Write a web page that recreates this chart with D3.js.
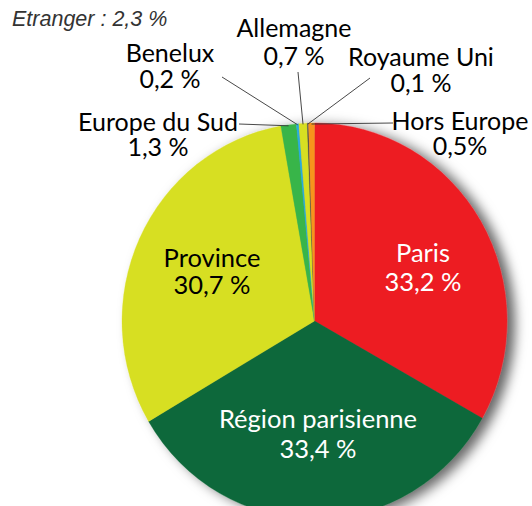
<!DOCTYPE html>
<html>
<head>
<meta charset="utf-8">
<script src="https://cdn.jsdelivr.net/npm/d3@7"></script>
<style>
  html, body { margin: 0; padding: 0; background: #fff; }
  svg { display: block; }
</style>
</head>
<body>
<svg id="chart" width="532" height="506"></svg>
<script>
// ---- Data ----
const categories = ["Paris", "Région parisienne", "Province", "Europe du Sud", "Benelux", "Allemagne", "Royaume Uni", "Hors Europe"];
const values = [33.2, 33.4, 30.7, 1.3, 0.2, 0.7, 0.1, 0.5];
const valueLabels = ["33,2 %", "33,4 %", "30,7 %", "1,3 %", "0,2 %", "0,7 %", "0,1 %", "0,5%"];
const colors = ["#ED1C24", "#0F673A", "#D7DF23", "#39B54A", "#29ABE2", "#D7DF23", "#4D4D4D", "#F7941D"];
const titleText = "Etranger : 2,3 %";

// ---- Layout (positions kept separate from data) ----
const cx = 314.5, cy = 321, rx = 192.5, ry = 198;
// label centre x, first baseline y, line gap, text colour, font size, leader outer end (or null)
const labelLayout = [
  { x: 423, y: 262, gap: 29, fill: "#fff", size: 25.5, leader: null },
  { x: 318, y: 428, gap: 30, fill: "#fff", size: 25.5, leader: null },
  { x: 212, y: 267, gap: 27, fill: "#000", size: 25.5, leader: null },
  { x: 158, y: 131, gap: 25, fill: "#000", size: 25, leader: [239, 124] },
  { x: 170, y: 62,  gap: 26, fill: "#000", size: 25, leader: [222, 77] },
  { x: 294, y: 37,  gap: 28, fill: "#000", size: 25, leader: [298, 72] },
  { x: 421, y: 66,  gap: 26, fill: "#000", size: 25, leader: [370, 78] },
  { x: 460, y: 130, gap: 25, fill: "#000", size: 25, leader: [393, 123] }
];

const data = categories.map((c, i) => ({ name: c, value: values[i], label: valueLabels[i], color: colors[i], layout: labelLayout[i] }));

const svg = d3.select("#chart");

// Drop shadow filter
const defs = svg.append("defs");
const f = defs.append("filter").attr("id", "shadow").attr("x", "-20%").attr("y", "-20%").attr("width", "140%").attr("height", "140%");
f.append("feGaussianBlur").attr("in", "SourceAlpha").attr("stdDeviation", 6).attr("result", "blur");
f.append("feOffset").attr("in", "blur").attr("dx", 8).attr("dy", 3).attr("result", "off");
f.append("feFlood").attr("flood-color", "#000").attr("flood-opacity", 0.6).attr("result", "col");
f.append("feComposite").attr("in", "col").attr("in2", "off").attr("operator", "in").attr("result", "sh");
const fm = f.append("feMerge");
fm.append("feMergeNode").attr("in", "sh");
fm.append("feMergeNode").attr("in", "SourceGraphic");

const pie = d3.pie().value(d => d.value).sort(null);
const arcs = pie(data);
const arc = d3.arc().innerRadius(0).outerRadius(rx);

const g = svg.append("g")
  .attr("transform", `translate(${cx},${cy}) scale(1,${ry / rx})`)
  .attr("filter", "url(#shadow)");

g.selectAll("path").data(arcs).enter().append("path")
  .attr("d", arc)
  .attr("fill", d => d.data.color)
  .attr("stroke", d => d.data.color)
  .attr("stroke-width", 0.3);

// Leader lines: from slice edge (mid-angle) to label
const leaders = arcs.filter(d => d.data.layout.leader);
svg.selectAll("line.leader").data(leaders).enter().append("line")
  .attr("class", "leader")
  .attr("x1", d => d.data.layout.leader[0])
  .attr("y1", d => d.data.layout.leader[1])
  .attr("x2", d => { const a = (d.startAngle + d.endAngle) / 2; return cx + rx * Math.sin(a); })
  .attr("y2", d => { const a = (d.startAngle + d.endAngle) / 2; return cy - ry * Math.cos(a) + 1; })
  .attr("stroke", "#333")
  .attr("stroke-width", 0.9);

// Labels (one text element per line)
const lblG = svg.selectAll("g.lbl").data(arcs).enter().append("g").attr("class", "lbl");
lblG.append("text")
  .attr("text-anchor", "middle")
  .attr("font-family", "Lato, 'Open Sans', sans-serif")
  .attr("font-size", d => d.data.layout.size)
  .attr("fill", d => d.data.layout.fill)
  .attr("x", d => d.data.layout.x)
  .attr("y", d => d.data.layout.y)
  .text(d => d.data.name);
lblG.append("text")
  .attr("text-anchor", "middle")
  .attr("font-family", "Lato, 'Open Sans', sans-serif")
  .attr("font-size", d => d.data.layout.size)
  .attr("fill", d => d.data.layout.fill)
  .attr("x", d => d.data.layout.x)
  .attr("y", d => d.data.layout.y + d.data.layout.gap)
  .text(d => d.data.label);

// Title
svg.append("text")
  .attr("x", 12)
  .attr("y", 26)
  .attr("font-family", "'Liberation Sans', Arial, sans-serif")
  .attr("font-style", "italic")
  .attr("font-size", 21.5)
  .attr("fill", "#333")
  .text(titleText);
</script>
</body>
</html>
